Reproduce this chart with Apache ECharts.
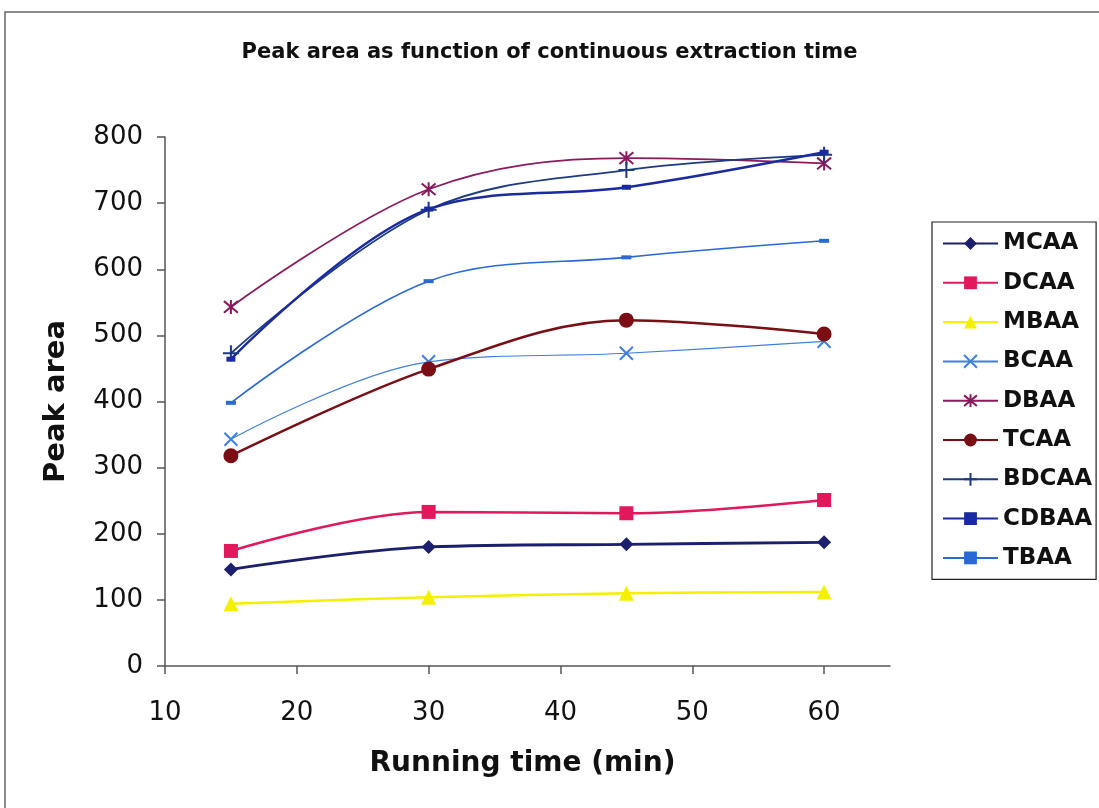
<!DOCTYPE html>
<html><head><meta charset="utf-8">
<script src="https://cdn.jsdelivr.net/npm/echarts@6/dist/echarts.min.js"></script>
<style>html,body{margin:0;padding:0;background:#fff}#c{width:1099px;height:808px}</style>
</head><body><div id="c"></div>
<script>
const times = [15, 30, 45, 60];
const xTicks = [10, 20, 30, 40, 50, 60];
const names = ['MCAA','DCAA','MBAA','BCAA','DBAA','TCAA','BDCAA','CDBAA','TBAA'];
const MCAA  = [146, 180, 184, 187];
const DCAA  = [174, 233, 231, 251];
const MBAA  = [94, 104, 110, 112];
const BCAA  = [343, 460, 473, 491];
const DBAA  = [543, 721, 768, 760];
const TCAA  = [318, 449, 523, 502];
const BDCAA = [473, 690, 750, 773];
const CDBAA = [464, 691, 724, 777];
const TBAA  = [398, 582, 618, 643];
const values = [MCAA, DCAA, MBAA, BCAA, DBAA, TCAA, BDCAA, CDBAA, TBAA];

const FONT = 'DejaVu Sans';
const colors = ['#1b1f6e','#e3175c','#f5f000','#3f7fe0','#8a1a5c','#7a0e14','#1c3a80','#1a2aa0','#2a68d8'];
const symX = 'path://M0,0L10,10M10,0L0,10';
const symAst = 'path://M0,0L10,10M10,0L0,10M5,-1L5,11';
const symPlus = 'path://M5,0L5,10M0,5L10,5';
const styles = [
  {symbol:'diamond', size:14, w:2.8},
  {symbol:'rect', size:14, w:2.5},
  {symbol:'triangle', size:15, w:2.5},
  {symbol:symX, size:13, w:1.2, stroke:true},
  {symbol:symAst, size:14, w:1.8, stroke:true},
  {symbol:'circle', size:15, w:2.5},
  {symbol:symPlus, size:16, w:1.8, stroke:true},
  {symbol:'rect', size:[9,5], w:2.5},
  {symbol:'rect', size:[10,4], w:1.6}
];

const series = names.map((n,i)=>{
  const s = styles[i];
  return {
    name:n, type:'line', smooth:0.35,
    data: times.map((t,j)=>[t, values[i][j]]),
    symbol: s.symbol, symbolSize: s.size,
    lineStyle:{color:colors[i], width:s.w},
    itemStyle: s.stroke ? {color:'rgba(0,0,0,0)', borderColor:colors[i], borderWidth:2} : {color:colors[i]},
    color: colors[i]
  };
});

const chart = echarts.init(document.getElementById('c'));
chart.setOption({
  animation:false,
  backgroundColor:'#fff',
  graphic:[{type:'rect', shape:{x:5, y:12, width:1110, height:820}, style:{fill:'none', stroke:'#666', lineWidth:1.5}, silent:true}],
  title:{text:'Peak area as function of continuous extraction time', left:'center', top:37,
    textStyle:{fontFamily:FONT, fontSize:21, fontWeight:'bold', color:'#111'}},
  grid:{left:165, right:209, top:137, bottom:142},
  legend:{orient:'vertical', left:932, top:222, data:names,
    padding:[10,4,10,10], itemGap:16.3, itemWidth:55, itemHeight:16,
    borderColor:'#222', borderWidth:1.2,
    textStyle:{fontFamily:FONT, fontSize:23, fontWeight:'bold', color:'#111'}},
  xAxis:{type:'value', min:10, max:65,
    name:'Running time (min)', nameLocation:'middle', nameGap:84,
    nameTextStyle:{fontFamily:FONT, fontSize:28, fontWeight:'bold', color:'#111', padding:[0,10,0,0]},
    axisLine:{lineStyle:{color:'#555', width:1.5}},
    axisTick:{show:true, length:8, customValues:xTicks, lineStyle:{color:'#555', width:1.5}},
    axisLabel:{customValues:xTicks, margin:34, fontFamily:FONT, fontSize:26, color:'#111'},
    splitLine:{show:false}},
  yAxis:{type:'value', min:0, max:800, interval:100,
    name:'Peak area', nameLocation:'middle', nameGap:94,
    nameTextStyle:{fontFamily:FONT, fontSize:29, fontWeight:'bold', color:'#111'},
    axisLine:{show:true, lineStyle:{color:'#555', width:1.5}},
    axisTick:{show:true, length:8, lineStyle:{color:'#555', width:1.5}},
    axisLabel:{margin:22, fontFamily:FONT, fontSize:26, color:'#111'},
    splitLine:{show:false}},
  series: series
});
</script></body></html>
